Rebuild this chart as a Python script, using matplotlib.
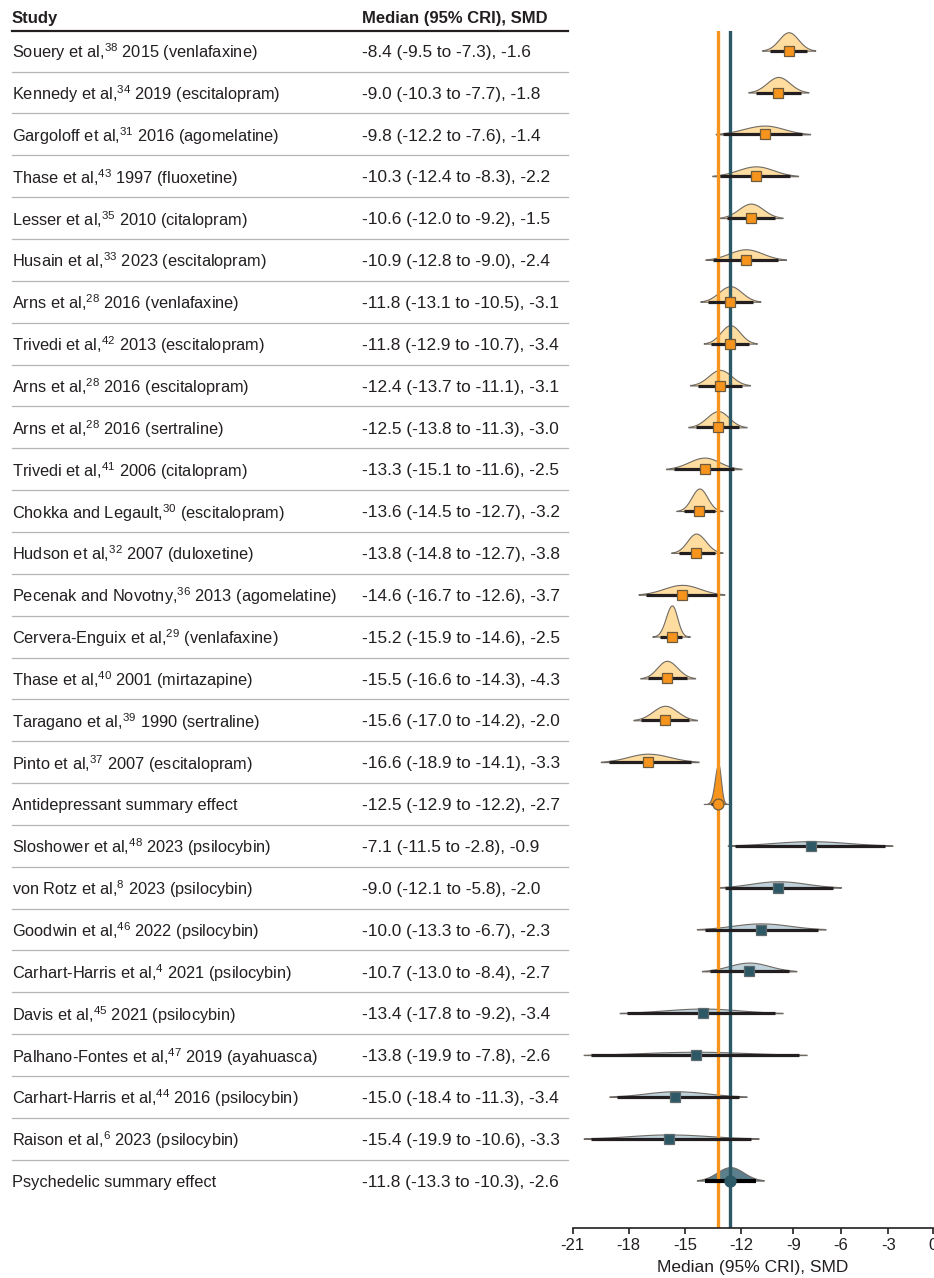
import numpy as np
import matplotlib
matplotlib.use("Agg")
import matplotlib.pyplot as plt
import matplotlib.transforms as mtransforms
from matplotlib import font_manager

# ---- data ----
authors = ["Souery et al,", "Kennedy et al,", "Gargoloff et al,", "Thase et al,", "Lesser et al,",
           "Husain et al,", "Arns et al,", "Trivedi et al,", "Arns et al,", "Arns et al,",
           "Trivedi et al,", "Chokka and Legault,", "Hudson et al,", "Pecenak and Novotny,",
           "Cervera-Enguix et al,", "Thase et al,", "Taragano et al,", "Pinto et al,",
           "Antidepressant summary effect",
           "Sloshower et al,", "von Rotz et al,", "Goodwin et al,", "Carhart-Harris et al,",
           "Davis et al,", "Palhano-Fontes et al,", "Carhart-Harris et al,", "Raison et al,",
           "Psychedelic summary effect"]
refs = ["38", "34", "31", "43", "35", "33", "28", "42", "28", "28", "41", "30", "32", "36",
        "29", "40", "39", "37", "",
        "48", "8", "46", "4", "45", "47", "44", "6", ""]
details = ["2015 (venlafaxine)", "2019 (escitalopram)", "2016 (agomelatine)", "1997 (fluoxetine)",
           "2010 (citalopram)", "2023 (escitalopram)", "2016 (venlafaxine)", "2013 (escitalopram)",
           "2016 (escitalopram)", "2016 (sertraline)", "2006 (citalopram)", "(escitalopram)",
           "2007 (duloxetine)", "2013 (agomelatine)", "(venlafaxine)", "2001 (mirtazapine)",
           "1990 (sertraline)", "2007 (escitalopram)", "",
           "2023 (psilocybin)", "2023 (psilocybin)", "2022 (psilocybin)", "2021 (psilocybin)",
           "2021 (psilocybin)", "2019 (ayahuasca)", "2016 (psilocybin)", "2023 (psilocybin)", ""]
median = [-8.4, -9.0, -9.8, -10.3, -10.6, -10.9, -11.8, -11.8, -12.4, -12.5, -13.3, -13.6, -13.8,
          -14.6, -15.2, -15.5, -15.6, -16.6, -12.5,
          -7.1, -9.0, -10.0, -10.7, -13.4, -13.8, -15.0, -15.4, -11.8]
cri_low = [-9.5, -10.3, -12.2, -12.4, -12.0, -12.8, -13.1, -12.9, -13.7, -13.8, -15.1, -14.5, -14.8,
           -16.7, -15.9, -16.6, -17.0, -18.9, -12.9,
           -11.5, -12.1, -13.3, -13.0, -17.8, -19.9, -18.4, -19.9, -13.3]
cri_high = [-7.3, -7.7, -7.6, -8.3, -9.2, -9.0, -10.5, -10.7, -11.1, -11.3, -11.6, -12.7, -12.7,
            -12.6, -14.6, -14.3, -14.2, -14.1, -12.2,
            -2.8, -5.8, -6.7, -8.4, -9.2, -7.8, -11.3, -10.6, -10.3]
smd = [-1.6, -1.8, -1.4, -2.2, -1.5, -2.4, -3.1, -3.4, -3.1, -3.0, -2.5, -3.2, -3.8, -3.7, -2.5,
       -4.3, -2.0, -3.3, -2.7,
       -0.9, -2.0, -2.3, -2.7, -3.4, -2.6, -3.4, -3.3, -2.6]
group = ["anti"] * 18 + ["anti_sum"] + ["psy"] * 8 + ["psy_sum"]
tick_labels = ["-21", "-18", "-15", "-12", "-9", "-6", "-3", "0"]
tick_positions = [-21, -17.73, -14.43, -11.15, -8.12, -5.36, -2.58, 0]

# ---- fonts ----
names = {f.name for f in font_manager.fontManager.ttflist}
font = "Liberation Sans Narrow" if "Liberation Sans Narrow" in names else "Liberation Sans"
plt.rcParams["font.family"] = [font, "DejaVu Sans"]
plt.rcParams["mathtext.fontset"] = "custom"
plt.rcParams["mathtext.rm"] = font
plt.rcParams["mathtext.default"] = "regular"

ORANGE = "#F7941D"
TEAL = "#2D5866"
INK = "#231F20"

W, H = 934, 1278
fig = plt.figure(figsize=(W / 100, H / 100), dpi=100)
ax_l, ax_r, ax_t, ax_b = 572.5, 932.7, 31, 1228
ax = fig.add_axes([ax_l / W, 1 - ax_b / H, (ax_r - ax_l) / W, (ax_b - ax_t) / H])
row0, step = 50.7, 41.85
ax.set_xlim(-21, 0)
ax.set_ylim((ax_b - row0) / step, (ax_t - row0) / step)

for s in ["top", "right", "left"]:
    ax.spines[s].set_visible(False)
ax.spines["bottom"].set_color(INK)
ax.spines["bottom"].set_linewidth(1.2)
ax.set_yticks([])
ax.set_xticks(tick_positions)
ax.set_xticklabels(tick_labels)
ax.tick_params(axis="x", length=4, width=1.2, color=INK, labelsize=12, labelcolor=INK, pad=3)
ax.set_xlabel("Median (95% CRI), SMD", fontsize=12.5, color=INK, labelpad=5)

# reference lines
ax.axvline(median[18], color=ORANGE, lw=2.4, zorder=2)
ax.axvline(median[27], color=TEAL, lw=2.4, zorder=2)

styles = {
    "anti": dict(fill="#FFDDA0", mk="s", mc=ORANGE, me="#6E5B3E", ms=7.4, bw=2.3),
    "anti_sum": dict(fill=ORANGE, mk="o", mc=ORANGE, me="#6E5B3E", ms=7.8, bw=2.3),
    "psy": dict(fill="#BFD2DB", mk="s", mc=TEAL, me="#5E6A6E", ms=7.4, bw=2.3),
    "psy_sum": dict(fill="#5B7F8D", mk="o", mc=TEAL, me=TEAL, ms=8.0, bw=3.0),
}

for i in range(len(median)):
    m, lo, hi = median[i], cri_low[i], cri_high[i]
    st = styles[group[i]]
    sl = (m - lo) / 1.96
    sr = (hi - m) / 1.96
    xs = np.linspace(lo - 0.45, hi + 0.45, 300)
    s = np.where(xs < m, sl, sr)
    pdf = 2 / (np.sqrt(2 * np.pi) * (sl + sr)) * np.exp(-0.5 * ((xs - m) / s) ** 2)
    h = 0.62 * pdf
    if h.max() > 0.95:
        h = h * 0.95 / h.max()
    ax.fill_between(xs, i, i - h, facecolor=st["fill"], edgecolor="#6F6A64", lw=0.8, zorder=1)
    ax.plot([lo, hi], [i, i], color=INK if group[i] != "psy_sum" else "black",
            lw=st["bw"], solid_capstyle="butt", zorder=3)
    ax.plot([m], [i], marker=st["mk"], ms=st["ms"], mfc=st["mc"], mec=st["me"], mew=0.9, zorder=4)

# ---- table on the left ----
tr = mtransforms.blended_transform_factory(fig.transFigure, ax.transData)
x_study, x_val, x_end = 12 / W, 362 / W, 568 / W
hdr_y = (18 - row0) / step
ax.text(x_study, hdr_y, "Study", transform=tr, fontsize=12, fontweight="bold",
        color=INK, va="center", ha="left", clip_on=False)
ax.text(x_val, hdr_y, "Median (95% CRI), SMD", transform=tr, fontsize=12, fontweight="bold",
        color=INK, va="center", ha="left", clip_on=False)
ax.plot([x_study, x_end], [(ax_t - row0) / step] * 2, transform=tr, color=INK, lw=1.6,
        clip_on=False)

for i in range(len(median)):
    if refs[i]:
        label = authors[i] + "$^{" + refs[i] + "}$ " + details[i]
    else:
        label = authors[i]
    val = "{:.1f} ({:.1f} to {:.1f}), {:.1f}".format(median[i], cri_low[i], cri_high[i], smd[i])
    ax.text(x_study, i + 0.04, label, transform=tr, fontsize=11.8, color=INK,
            va="center", ha="left", clip_on=False)
    ax.text(x_val, i + 0.04, val, transform=tr, fontsize=12.4, color=INK,
            va="center", ha="left", clip_on=False)
    if i < len(median) - 1:
        ax.plot([x_study, x_end], [i + 0.5, i + 0.5], transform=tr, color="#B5B5B5", lw=0.9,
                clip_on=False)

fig.savefig("out.png", dpi=100)
